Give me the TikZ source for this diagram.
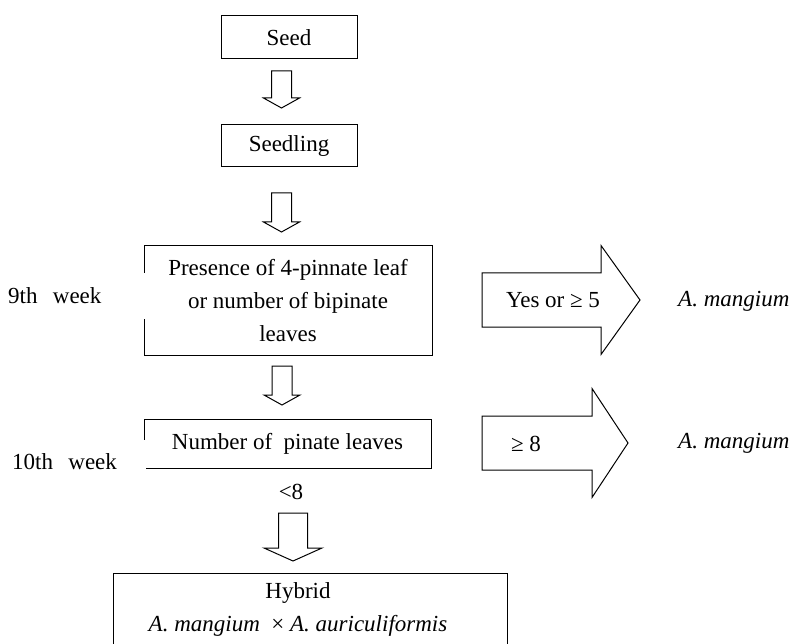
\documentclass[tikz,border=0pt]{standalone}
\usepackage{fontspec}
\setmainfont{Liberation Serif}
\usetikzlibrary{positioning}

\begin{document}
\begin{tikzpicture}[x=1pt, y=-1pt,
	every node/.style={font=\fontsize{23}{33}\selectfont, inner sep=0pt},
	stagebox/.style={draw, line width=1pt, align=center},
	weeklabel/.style={fill=white, anchor=west, minimum height=45pt, text width=130pt, inner xsep=8pt, align=left},
	blockarrow/.style={draw, line width=1pt, fill=white, line join=miter}]
			\clip (0,0) rectangle (792,644);
			\fill[white] (0,0) rectangle (792,644);
			% boxes of the key
			\node[stagebox, minimum width=136pt, minimum height=43pt](seed) at (289,37.5){Seed};
			\node[stagebox, minimum width=136pt, minimum height=42pt](seedling) at (289,146){Seedling};
			\node[stagebox, minimum width=288pt, minimum height=109pt](leaf) at (288,300.5){Presence of 4-pinnate leaf\\or number of bipinate\\leaves};
			\node[stagebox, minimum width=287pt, minimum height=49pt](pinate) at (287.5,443.5){Number of~~pinate leaves};
			\node[stagebox, minimum width=394pt, minimum height=90pt](hybridbox) at (310,618){};
			\node[align=center](hybrid) at (298,609){Hybrid\\\textit{A. mangium}~~\texttt{}×~\textit{A. auriculiformis}};
			% week labels
			\node[weeklabel](week9) at (0,296){9th~~week};
			\node[weeklabel, text width=126pt](week10) at (4,462){10th~~week};
			\node(less8) at (291,492){<8};
			% down arrows
			\foreach \xMid/\yTop/\yBase/\yTip/\wShaft/\wHead in {281.5/71/98/108/10/18, 281.5/193/222/232/10/18, 282/366/395/405/10/18, 293/513/548/561/14.5/29}
			{
				\draw[blockarrow] ({\xMid-\wShaft},\yTop) -- ({\xMid+\wShaft},\yTop) -- ({\xMid+\wShaft},\yBase) -- ({\xMid+\wHead},\yBase) -- (\xMid,\yTip) -- ({\xMid-\wHead},\yBase) -- ({\xMid-\wShaft},\yBase) -- cycle;
			}
			% right arrows
			\foreach \xLeft/\yMid/\xBase/\xTip in {482/300/601/640, 482/443/592/628}
			{
				\draw[blockarrow] (\xLeft,{\yMid-27}) -- (\xBase,{\yMid-27}) -- (\xBase,{\yMid-54.5}) -- (\xTip,\yMid) -- (\xBase,{\yMid+54.5}) -- (\xBase,{\yMid+27}) -- (\xLeft,{\yMid+27}) -- cycle;
			}
			\node(yes5) at (553,300){Yes or ≥ 5};
			\node(ge8) at (526,444){≥ 8};
			\node[anchor=west](mangium1) at (678,301){\textit{A. mangium}};
			\node[anchor=west](mangium2) at (678,443){\textit{A. mangium}};
		\end{tikzpicture}
\end{document}
